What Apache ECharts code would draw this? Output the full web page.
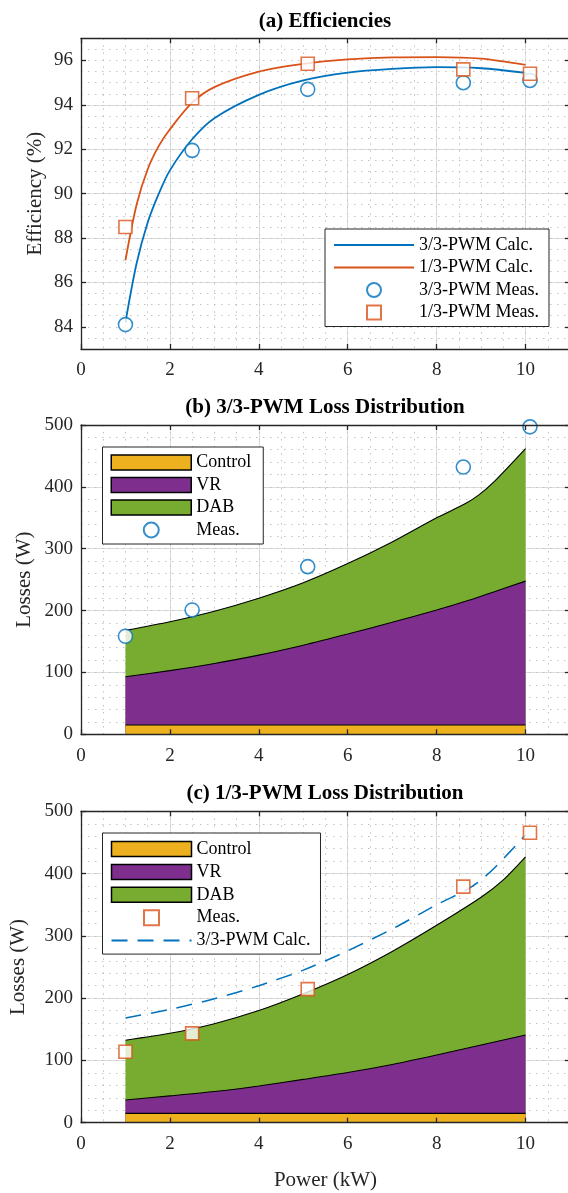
<!DOCTYPE html>
<html>
<head>
<meta charset="utf-8">
<script src="https://cdn.jsdelivr.net/npm/echarts@6.0.0/dist/echarts.min.js"></script>
<style>
html, body { margin: 0; padding: 0; background: #fff; }
#chart { width: 568px; height: 1193px; }
</style>
</head>
<body>
<div id="chart"></div>
<script>
// (a) efficiency curves
var calcPowerA = [1, 1.25, 1.5, 1.75, 2, 2.5, 3, 4, 5, 6, 7, 8, 9, 10];
var eff33Calc = [84.2, 86.85, 88.7, 90.0, 91.05, 92.45, 93.4, 94.45, 95.1, 95.45, 95.62, 95.7, 95.65, 95.44];
var eff13Calc = [87.0, 89.5, 91.1, 92.15, 92.9, 94.1, 94.8, 95.5, 95.85, 96.05, 96.14, 96.15, 96.08, 95.8];

var measPower = [1, 2.5, 5.1, 8.6, 10.1];
var eff33Meas = [84.1, 91.95, 94.7, 95.0, 95.1];
var eff13Meas = [88.5, 94.3, 95.85, 95.6, 95.4];

// (b) 3/3-PWM losses: upper edge of each area (W)
var lossPowerB = [1, 2, 3, 4, 5, 6, 7, 8, 8.65, 8.95, 9.3, 10];
var control33Top = [15, 15, 15, 15, 15, 15, 15, 15, 15, 15, 15, 15];
var vr33Top = [93, 103, 114.5, 128, 144, 162, 181, 201, 215, 222, 230.5, 247.6];
var dab33Top = [168, 182, 199, 220, 245, 276, 311, 350, 373, 387, 409, 462];
var loss33Meas = [158.5, 201, 271, 432, 497];

// (c) 1/3-PWM losses
var lossPowerC = [1, 2, 3, 4, 5, 6, 7, 8, 9, 9.5, 10];
var control13Top = [15, 15, 15, 15, 15, 15, 15, 15, 15, 15, 15];
var vr13Top = [36.4, 43, 50, 59, 69.5, 80.5, 93.5, 108.7, 124.8, 132.8, 140.8];
var dab13Top = [132.5, 143.5, 159, 180, 207, 238, 275, 317, 362, 390, 427];
var loss13Meas = [114, 143.5, 214.5, 379, 465.5];

var effTicks = [84, 86, 88, 90, 92, 94, 96];

var blue = '#0072BD';
var orange = '#D95319';
var yellow = '#EDB120';
var purple = '#7E2F8E';
var green = '#77AC30';
var axisColor = '#262626';
var majorGridColor = '#dcdcdc';
var minorGridColor = '#c2c2c2';
var fontFamily = '"Liberation Serif", "Times New Roman", serif';
var squareIcon = 'path://M0,0L1,0L1,1L0,1Z';

function toPairs(xs, ys) {
	var out = [];
	for (var i = 0; i < xs.length; i++) {
		out.push([xs[i], ys[i]]);
	}
	return out;
}

/**
 * x axes of one panel: labels/box, top box, major grid, minor grid
 */
function buildXAxes(g, name) {
	var box = {
		show: true, onZero: false,
		lineStyle: { color: axisColor, width: 1.3 }
	};
	var tick = { show: true, inside: true, length: 5, lineStyle: { color: axisColor, width: 1.3 } };
	return [
		{
			gridIndex: g, type: 'value', position: 'bottom', min: 0, max: 11, interval: 2, z: 10,
			axisLine: box, axisTick: tick,
			axisLabel: { show: true, margin: 12, color: axisColor, fontFamily: fontFamily, fontSize: 19, showMaxLabel: false },
			splitLine: { show: false },
			name: name, nameLocation: 'middle', nameGap: 47, nameMoveOverlap: false,
			nameTextStyle: { color: axisColor, fontFamily: fontFamily, fontSize: 21 }
		},
		{
			gridIndex: g, type: 'value', position: 'top', min: 0, max: 11, interval: 2, z: 10,
			axisLine: box, axisTick: tick, axisLabel: { show: false }, splitLine: { show: false }
		},
		{
			gridIndex: g, type: 'value', position: 'bottom', min: 0, max: 11, interval: 2,
			axisLine: { show: false }, axisTick: { show: false }, axisLabel: { show: false },
			splitLine: { show: true, showMinLine: false, showMaxLine: false, lineStyle: { color: majorGridColor, width: 1 } }
		},
		{
			gridIndex: g, type: 'value', position: 'bottom', min: 0, max: 11, interval: 0.5,
			axisLine: { show: false }, axisTick: { show: false }, axisLabel: { show: false },
			splitLine: { show: true, showMinLine: false, showMaxLine: false, lineStyle: { color: minorGridColor, width: 1, type: [1.5, 5.5] } }
		}
	];
}

/**
 * y axes of one panel
 */
function buildYAxes(g, min, max, step, minorStep, custom, name, nameGap) {
	var box = { show: true, onZero: false, lineStyle: { color: axisColor, width: 1.3 } };
	var tick = { show: true, inside: true, length: 5, lineStyle: { color: axisColor, width: 1.3 } };
	if (custom) tick.customValues = custom;
	var label = { show: true, margin: 8, color: axisColor, fontFamily: fontFamily, fontSize: 19 };
	if (custom) label.customValues = custom;
	return [
		{
			gridIndex: g, type: 'value', position: 'left', min: min, max: max, interval: step, z: 10,
			axisLine: box, axisTick: tick, axisLabel: label, splitLine: { show: false },
			name: name, nameLocation: 'middle', nameRotate: 90, nameGap: nameGap, nameMoveOverlap: false,
			nameTextStyle: { color: axisColor, fontFamily: fontFamily, fontSize: 21 }
		},
		{
			gridIndex: g, type: 'value', position: 'right', min: min, max: max, interval: step, z: 10,
			axisLine: box, axisTick: tick, axisLabel: { show: false }, splitLine: { show: false }
		},
		{
			gridIndex: g, type: 'value', position: 'left', min: min, max: max, interval: step,
			axisLine: { show: false }, axisTick: custom ? { show: false, customValues: custom } : { show: false },
			axisLabel: { show: false },
			splitLine: { show: true, showMinLine: false, showMaxLine: false, lineStyle: { color: majorGridColor, width: 1 } }
		},
		{
			gridIndex: g, type: 'value', position: 'left', min: min, max: max, interval: minorStep,
			axisLine: { show: false }, axisTick: { show: false }, axisLabel: { show: false },
			splitLine: { show: true, showMinLine: false, showMaxLine: false, lineStyle: { color: minorGridColor, width: 1, type: [1.5, 5.5] } }
		}
	];
}

function areaSeries(name, g, xs, ys, color) {
	return {
		name: name, type: 'line', xAxisIndex: g * 4, yAxisIndex: g * 4,
		data: toPairs(xs, ys), showSymbol: false, symbol: 'none', smooth: 0.25,
		lineStyle: { color: '#000', width: 1.1 },
		itemStyle: { color: color },
		areaStyle: { color: color, opacity: 1 },
		z: 2
	};
}

function legendText() {
	return { color: '#000', fontFamily: fontFamily, fontSize: 18, lineHeight: 18 };
}

var myChart = echarts.init(document.getElementById('chart'), null, { renderer: 'canvas' });

var xAxes = [].concat(buildXAxes(0, ''), buildXAxes(1, ''), buildXAxes(2, 'Power (kW)'));
var yAxes = [].concat(
	buildYAxes(0, 83, 97, 1, 0.5, effTicks, 'Efficiency (%)', 35),
	buildYAxes(1, 0, 500, 100, 20, null, 'Losses (W)', 46),
	buildYAxes(2, 0, 500, 100, 20, null, 'Losses (W)', 52)
);

var option = {
	animation: false,
	backgroundColor: '#fff',
	grid: [
		{ left: 81, top: 38.3, width: 489, height: 310.7, outerBoundsMode: 'none' },
		{ left: 81, top: 425, width: 489, height: 309.3, outerBoundsMode: 'none' },
		{ left: 81, top: 811.3, width: 489, height: 311.4, outerBoundsMode: 'none' }
	],
	xAxis: xAxes,
	yAxis: yAxes,
	graphic: [
		{ type: 'text', x: 325, y: 21.7, z: 100, style: { text: '(a) Efficiencies', font: 'bold 21px ' + fontFamily, fill: '#000', align: 'center', verticalAlign: 'middle', textAlign: 'center', textVerticalAlign: 'middle' } },
		{ type: 'text', x: 325, y: 408, z: 100, style: { text: '(b) 3/3-PWM Loss Distribution', font: 'bold 21px ' + fontFamily, fill: '#000', align: 'center', verticalAlign: 'middle', textAlign: 'center', textVerticalAlign: 'middle' } },
		{ type: 'text', x: 325, y: 794, z: 100, style: { text: '(c) 1/3-PWM Loss Distribution', font: 'bold 21px ' + fontFamily, fill: '#000', align: 'center', verticalAlign: 'middle', textAlign: 'center', textVerticalAlign: 'middle' } }
	],
	legend: [
		{
			orient: 'vertical', left: 325, top: 229, padding: [7, 10, 5, 8],
			itemWidth: 80, itemHeight: 14, itemGap: 4.5, selectedMode: false, z: 20,
			backgroundColor: '#fff', borderColor: axisColor, borderWidth: 1, borderRadius: 0,
			textStyle: legendText(),
			data: [
				{ name: '3/3-PWM Calc.', itemStyle: { opacity: 0, color: 'rgba(0,0,0,0)', borderWidth: 0 } },
				{ name: '1/3-PWM Calc.', itemStyle: { opacity: 0, color: 'rgba(0,0,0,0)', borderWidth: 0 } },
				{ name: '3/3-PWM Meas.' },
				{ name: '1/3-PWM Meas.', icon: squareIcon }
			]
		},
		{
			orient: 'vertical', left: 102.5, top: 447, padding: [6.5, 12, 5, 8],
			itemWidth: 80, itemHeight: 15, itemGap: 4.5, selectedMode: false, z: 20,
			backgroundColor: '#fff', borderColor: axisColor, borderWidth: 1, borderRadius: 0,
			textStyle: legendText(),
			formatter: function (name) { return name.replace(/ \([bc]\)$/, ''); },
			data: [
				{ name: 'Control (b)', icon: 'rect', itemStyle: { color: yellow, borderColor: '#000', borderWidth: 1.5 } },
				{ name: 'VR (b)', icon: 'rect', itemStyle: { color: purple, borderColor: '#000', borderWidth: 1.5 } },
				{ name: 'DAB (b)', icon: 'rect', itemStyle: { color: green, borderColor: '#000', borderWidth: 1.5 } },
				{ name: 'Meas. (b)' }
			]
		},
		{
			orient: 'vertical', left: 102.5, top: 833, padding: [7, 10, 4.5, 8],
			itemWidth: 80, itemHeight: 15, itemGap: 4.9, selectedMode: false, z: 20,
			backgroundColor: '#fff', borderColor: axisColor, borderWidth: 1, borderRadius: 0,
			textStyle: legendText(),
			formatter: function (name) { return name.replace(/ \([bc]\)$/, ''); },
			data: [
				{ name: 'Control (c)', icon: 'rect', itemStyle: { color: yellow, borderColor: '#000', borderWidth: 1.5 } },
				{ name: 'VR (c)', icon: 'rect', itemStyle: { color: purple, borderColor: '#000', borderWidth: 1.5 } },
				{ name: 'DAB (c)', icon: 'rect', itemStyle: { color: green, borderColor: '#000', borderWidth: 1.5 } },
				{ name: 'Meas. (c)', icon: squareIcon },
				{ name: '3/3-PWM Calc. (c)', itemStyle: { opacity: 0, color: 'rgba(0,0,0,0)', borderWidth: 0 } }
			]
		}
	],
	series: [
		// (a)
		{
			name: '3/3-PWM Calc.', type: 'line', xAxisIndex: 0, yAxisIndex: 0,
			data: toPairs(calcPowerA, eff33Calc), showSymbol: false, symbol: 'none', smooth: 0.3,
			lineStyle: { color: blue, width: 1.8 }, itemStyle: { color: blue }, z: 3
		},
		{
			name: '1/3-PWM Calc.', type: 'line', xAxisIndex: 0, yAxisIndex: 0,
			data: toPairs(calcPowerA, eff13Calc), showSymbol: false, symbol: 'none', smooth: 0.3,
			lineStyle: { color: orange, width: 1.8 }, itemStyle: { color: orange }, z: 3
		},
		{
			name: '3/3-PWM Meas.', type: 'scatter', xAxisIndex: 0, yAxisIndex: 0,
			data: toPairs(measPower, eff33Meas), symbol: 'circle', symbolSize: 14,
			itemStyle: { color: '#fff', borderColor: blue, borderWidth: 1.6 }, z: 5
		},
		{
			name: '1/3-PWM Meas.', type: 'scatter', xAxisIndex: 0, yAxisIndex: 0,
			data: toPairs(measPower, eff13Meas), symbol: 'rect', symbolSize: 13,
			itemStyle: { color: '#fff', borderColor: orange, borderWidth: 1.6 }, z: 5
		},
		// (b)
		areaSeries('DAB (b)', 1, lossPowerB, dab33Top, green),
		areaSeries('VR (b)', 1, lossPowerB, vr33Top, purple),
		areaSeries('Control (b)', 1, lossPowerB, control33Top, yellow),
		{
			name: 'Meas. (b)', type: 'scatter', xAxisIndex: 4, yAxisIndex: 4,
			data: toPairs(measPower, loss33Meas), symbol: 'circle', symbolSize: 14,
			itemStyle: { color: '#fff', borderColor: blue, borderWidth: 1.6 }, z: 5
		},
		// (c)
		areaSeries('DAB (c)', 2, lossPowerC, dab13Top, green),
		areaSeries('VR (c)', 2, lossPowerC, vr13Top, purple),
		areaSeries('Control (c)', 2, lossPowerC, control13Top, yellow),
		{
			name: '3/3-PWM Calc. (c)', type: 'line', xAxisIndex: 8, yAxisIndex: 8,
			data: toPairs(lossPowerB, dab33Top), showSymbol: false, symbol: 'none', smooth: 0.25,
			lineStyle: { color: blue, width: 1.5, type: [16, 10] }, itemStyle: { color: blue }, z: 4
		},
		{
			name: 'Meas. (c)', type: 'scatter', xAxisIndex: 8, yAxisIndex: 8,
			data: toPairs(measPower, loss13Meas), symbol: 'rect', symbolSize: 13,
			itemStyle: { color: '#fff', borderColor: orange, borderWidth: 1.6 }, z: 5
		}
	]
};
// 显示图表
myChart.setOption(option);
</script>
</body>
</html>
